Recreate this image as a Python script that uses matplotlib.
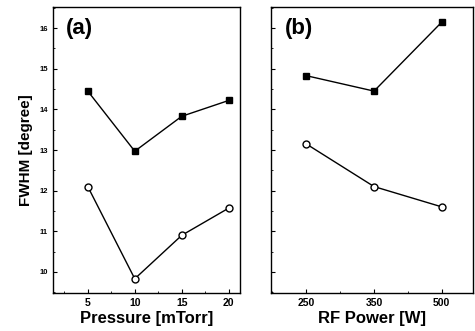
import matplotlib
matplotlib.use("Agg")
import matplotlib.pyplot as plt
from matplotlib.ticker import MultipleLocator, AutoMinorLocator

plt.rcParams['font.family'] = ['Liberation Sans', 'DejaVu Sans']
plt.rcParams['font.weight'] = 'bold'

# (a) pressure series
pressure = [5, 10, 15, 20]
fwhm_a_filled = [14.45, 12.97, 13.83, 14.22]
fwhm_a_open = [12.1, 9.83, 10.9, 11.57]

# (b) RF power series (equally spaced categories)
rf_labels = ['250', '350', '500']
fwhm_b_filled = [14.83, 14.45, 16.15]
fwhm_b_open = [13.15, 12.1, 11.6]

fig = plt.figure(figsize=(4.75, 3.31), dpi=100)
ax1 = fig.add_axes([0.1116, 0.1148, 0.3937, 0.864])
ax2 = fig.add_axes([0.5705, 0.1148, 0.4253, 0.864])

def style(ax):
    ax.tick_params(which='both', direction='in', top=False, right=False)
    ax.tick_params(which='major', length=3, width=0.8, labelsize=5.5)
    ax.tick_params(which='minor', length=1.5, width=0.6)
    for s in ax.spines.values():
        s.set_linewidth(1.0)
    ax.set_ylim(9.48, 16.52)
    ax.yaxis.set_major_locator(MultipleLocator(1))
    ax.yaxis.set_minor_locator(MultipleLocator(0.5))

# panel (a)
ax1.plot(pressure, fwhm_a_filled, '-s', color='black', lw=1, ms=5,
         mfc='black', mec='black')
ax1.plot(pressure, fwhm_a_open, '-o', color='black', lw=1, ms=5,
         mfc='white', mec='black')
style(ax1)
ax1.set_xlim(1.3, 21.2)
ax1.xaxis.set_major_locator(MultipleLocator(5))
ax1.xaxis.set_minor_locator(MultipleLocator(2.5))
ax1.set_xlabel('Pressure [mTorr]', fontsize=12, fontweight='bold', labelpad=2)
ax1.set_ylabel('FWHM [degree]', fontsize=11, fontweight='bold', labelpad=5)
ax1.text(0.07, 0.96, '(a)', transform=ax1.transAxes, fontsize=16,
         fontweight='bold', va='top', ha='left')
for lab in ax1.get_xticklabels():
    lab.set_fontsize(7.5)

# panel (b)
xpos = list(range(len(rf_labels)))
ax2.plot(xpos, fwhm_b_filled, '-s', color='black', lw=1, ms=5,
         mfc='black', mec='black')
ax2.plot(xpos, fwhm_b_open, '-o', color='black', lw=1, ms=5,
         mfc='white', mec='black')
style(ax2)
ax2.set_xlim(-0.52, 2.46)
ax2.set_xticks(xpos)
ax2.set_xticklabels(rf_labels, fontsize=7.5)
ax2.xaxis.set_minor_locator(AutoMinorLocator(2))
ax2.tick_params(labelleft=False)
ax2.set_xlabel('RF Power [W]', fontsize=12, fontweight='bold', labelpad=2)
ax2.text(0.07, 0.96, '(b)', transform=ax2.transAxes, fontsize=16,
         fontweight='bold', va='top', ha='left')

fig.savefig('out.png', dpi=100)
